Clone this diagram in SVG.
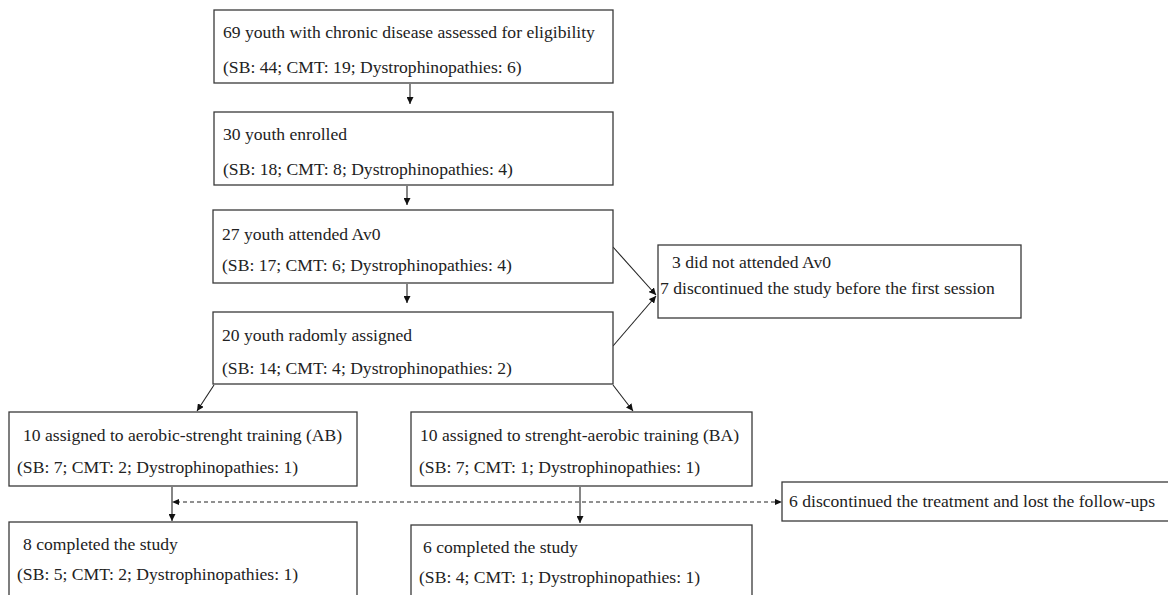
<svg xmlns="http://www.w3.org/2000/svg" width="1168" height="595" viewBox="0 0 1168 595">
<style>
.box{fill:#fff;stroke:#3a3a3a;stroke-width:1.3}
text{font-family:"Liberation Serif","Times New Roman",serif;font-size:17.6px;fill:#222}
.ln{stroke:#222;stroke-width:1.1;fill:none}
.dash{stroke:#222;stroke-width:1.2;fill:none;stroke-dasharray:4 3}
</style>
<defs>
<marker id="ah" viewBox="0 0 10 10" refX="10" refY="5" markerWidth="7" markerHeight="7" markerUnits="userSpaceOnUse" orient="auto">
<path d="M0,0 L10,5 L0,10 z" fill="#111"/>
</marker>
</defs>
<rect width="1168" height="595" fill="#fff"/>
<g id="connectors">
<line class="ln" x1="410" y1="84" x2="410" y2="104" marker-end="url(#ah)"/>
<line class="ln" x1="407" y1="186" x2="407" y2="205" marker-end="url(#ah)"/>
<line class="ln" x1="407" y1="284" x2="407" y2="303" marker-end="url(#ah)"/>
<line class="ln" x1="613" y1="247" x2="656" y2="295" marker-end="url(#ah)"/>
<line class="ln" x1="613" y1="346" x2="656" y2="296" marker-end="url(#ah)"/>
<line class="ln" x1="214" y1="385" x2="197" y2="411" marker-end="url(#ah)"/>
<line class="ln" x1="613" y1="385" x2="633" y2="411" marker-end="url(#ah)"/>
<line class="ln" x1="172" y1="487" x2="172" y2="521" marker-end="url(#ah)"/>
<line class="ln" x1="580" y1="487" x2="580" y2="523" marker-end="url(#ah)"/>
<line class="dash" x1="176" y1="502" x2="778" y2="502"/>
<path d="M172,502 L179,499 L179,505 z" fill="#111"/>
<path d="M782,502 L775,499 L775,505 z" fill="#111"/>
</g>
<g id="n1"><rect class="box" x="214" y="10" width="399" height="73"/>
<text x="223" y="38">69 youth with chronic disease assessed for eligibility</text>
<text x="223" y="73">(SB: 44; CMT: 19; Dystrophinopathies: 6)</text></g>
<g id="n2"><rect class="box" x="214" y="112" width="399" height="73"/>
<text x="223" y="140">30 youth enrolled</text>
<text x="223" y="175">(SB: 18; CMT: 8; Dystrophinopathies: 4)</text></g>
<g id="n3"><rect class="box" x="213" y="210" width="400" height="73"/>
<text x="222" y="240">27 youth attended Av0</text>
<text x="222" y="271">(SB: 17; CMT: 6; Dystrophinopathies: 4)</text></g>
<g id="n4"><rect class="box" x="213" y="312" width="400" height="72"/>
<text x="222" y="341">20 youth radomly assigned</text>
<text x="222" y="374">(SB: 14; CMT: 4; Dystrophinopathies: 2)</text></g>
<g id="n5"><rect class="box" x="658" y="245" width="363" height="73"/>
<text x="672" y="268">3 did not attended Av0</text>
<text x="660" y="294">7 discontinued the study before the first session</text></g>
<g id="n6"><rect class="box" x="9" y="412" width="348" height="74"/>
<text x="23" y="441">10 assigned to aerobic-strenght training (AB)</text>
<text x="17" y="473">(SB: 7; CMT: 2; Dystrophinopathies: 1)</text></g>
<g id="n7"><rect class="box" x="411" y="412" width="341" height="74"/>
<text x="420" y="441">10 assigned to strenght-aerobic training (BA)</text>
<text x="419" y="473">(SB: 7; CMT: 1; Dystrophinopathies: 1)</text></g>
<g id="n8"><rect class="box" x="782" y="482" width="400" height="39"/>
<text x="789" y="507">6 discontinued the treatment and lost the follow-ups</text></g>
<g id="n9"><rect class="box" x="9" y="522" width="348" height="90"/>
<text x="23" y="550">8 completed the study</text>
<text x="17" y="580">(SB: 5; CMT: 2; Dystrophinopathies: 1)</text></g>
<g id="n10"><rect class="box" x="411" y="525" width="341" height="90"/>
<text x="423" y="553">6 completed the study</text>
<text x="419" y="583">(SB: 4; CMT: 1; Dystrophinopathies: 1)</text></g>
</svg>
